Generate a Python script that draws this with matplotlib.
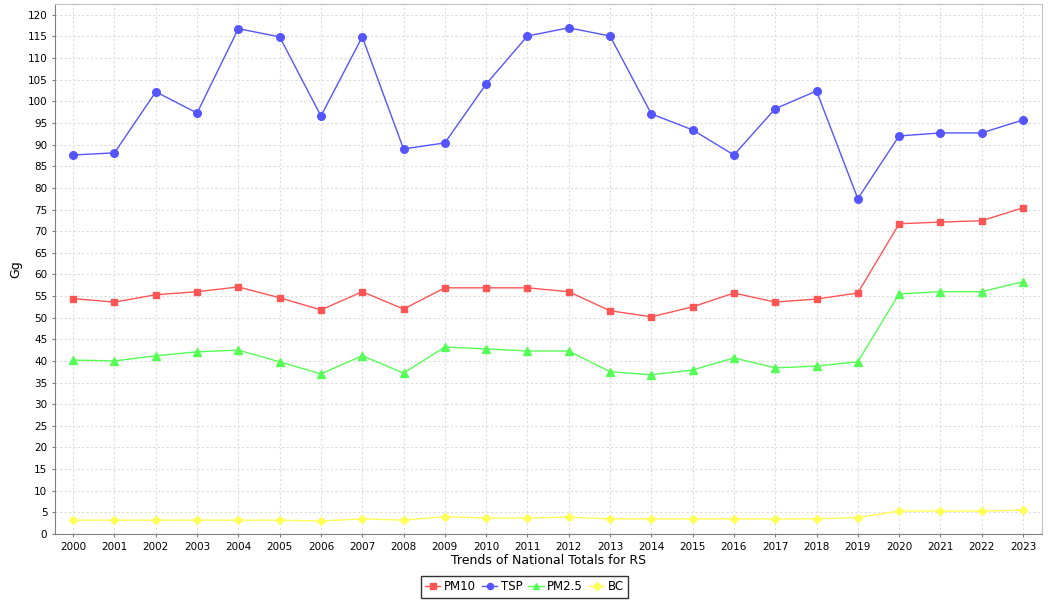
import numpy as np
from matplotlib import pyplot as plt

years = [str(y) for y in range(2000, 2024)]

pm10 = [54.4, 53.6, 55.3, 56.0, 57.1, 54.6, 51.8, 56.0, 52.0, 56.9, 56.9, 56.9,
        56.0, 51.6, 50.2, 52.5, 55.7, 53.6, 54.3, 55.7, 71.7, 72.1, 72.4, 75.4]
tsp = [87.6, 88.1, 102.2, 97.3, 116.8, 114.9, 96.6, 114.9, 89.0, 90.4, 104.0, 115.1,
       117.0, 115.1, 97.1, 93.4, 87.6, 98.3, 102.4, 77.5, 92.0, 92.7, 92.7, 95.7]
pm25 = [40.2, 40.0, 41.2, 42.1, 42.5, 39.8, 37.0, 41.2, 37.2, 43.2, 42.8, 42.3,
        42.3, 37.5, 36.8, 37.9, 40.7, 38.4, 38.8, 39.8, 55.5, 56.0, 56.0, 58.3]
bc = [3.2, 3.2, 3.2, 3.2, 3.2, 3.2, 3.0, 3.5, 3.2, 4.0, 3.7, 3.7,
      3.9, 3.5, 3.5, 3.5, 3.5, 3.5, 3.5, 3.8, 5.3, 5.3, 5.3, 5.5]

series = [
    ('PM10', pm10, '#FF5555', 's', 5),
    ('TSP', tsp, '#5555FF', 'o', 5.5),
    ('PM2.5', pm25, '#55FF55', '^', 5.5),
    ('BC', bc, '#FFFF55', 'D', 4.5),
]

fig = plt.figure(figsize=(10.5, 6), dpi=100)
ax = fig.add_axes([55/1050, 1-534/600, (1042-55)/1050, (534-4)/600])

x = np.arange(len(years))
for name, vals, col, mk, ms in series:
    ax.plot(x, vals, color=col, marker=mk, markersize=ms, linewidth=1, label=name)

ax.set_xlim(-0.44, 23.46)
ax.set_ylim(0, 122.5)
ax.set_xticks(x)
ax.set_xticklabels(years)
ax.set_yticks(np.arange(0, 121, 5))
ax.tick_params(labelsize=7.5, length=2, color='#808080')
ax.grid(True, color='#dcdcdc', linestyle=(0, (2, 2)), linewidth=0.8)
ax.set_axisbelow(True)
for s in ['top', 'right']:
    ax.spines[s].set_color('#c0c0c0')
for s in ['left', 'bottom']:
    ax.spines[s].set_color('#808080')

ax.set_xlabel('Trends of National Totals for RS', fontsize=9, labelpad=2)
ax.set_ylabel('Gg', fontsize=9)

leg = fig.legend(loc='center', bbox_to_anchor=(524.5/1050, 1-587/600), ncol=4,
                 fontsize=8.5, frameon=True, fancybox=False, handlelength=1.3,
                 handletextpad=0.3, columnspacing=0.5, borderpad=0.35, markerscale=0.8,
                 borderaxespad=0)
leg.get_frame().set_edgecolor('black')
leg.get_frame().set_linewidth(1)

fig.savefig('out.png', dpi=100)
